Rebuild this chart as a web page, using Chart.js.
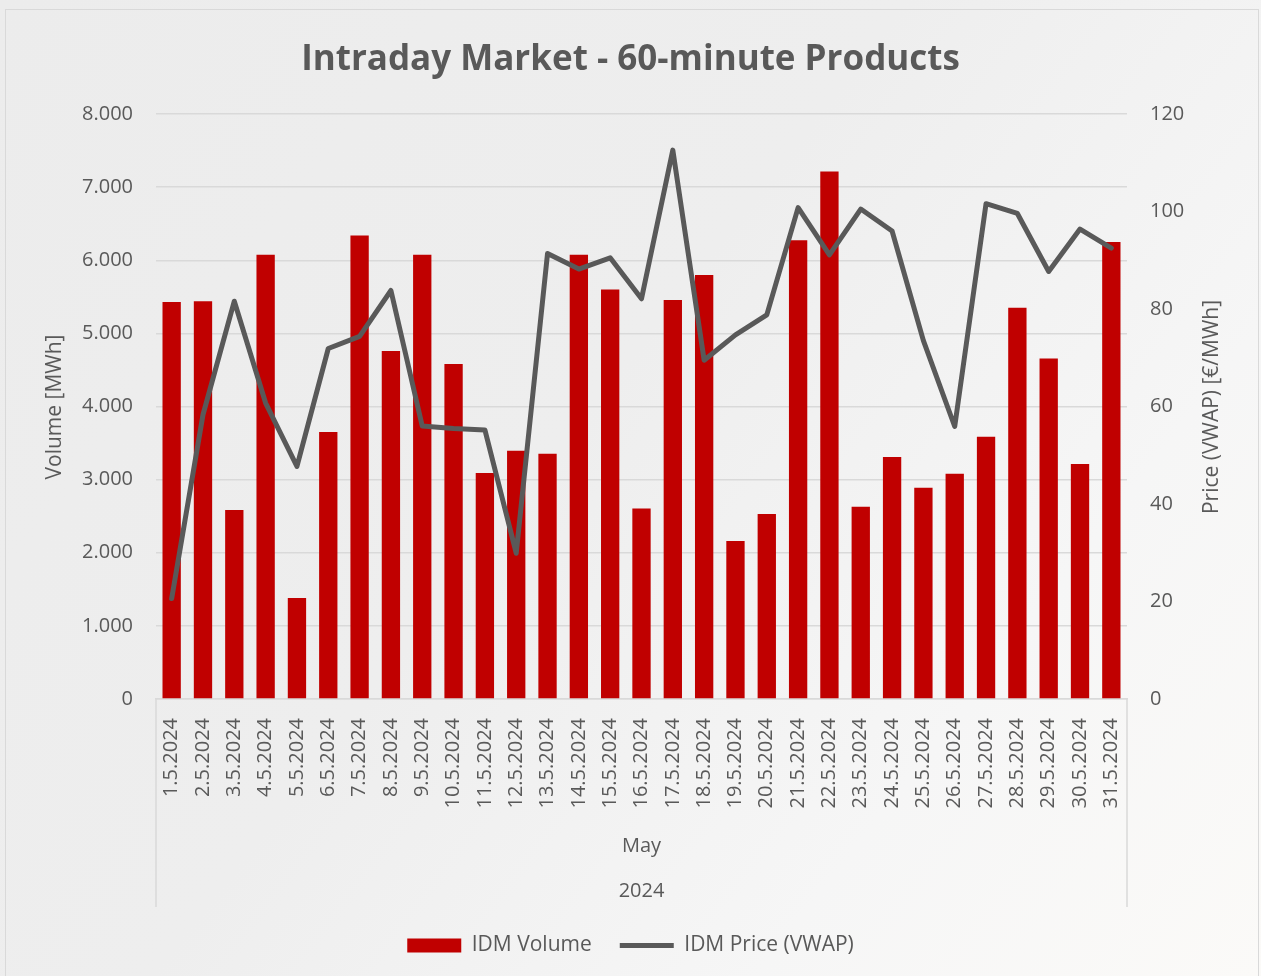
<!DOCTYPE html>
<html>
<head>
<meta charset="utf-8">
<script src="https://cdn.jsdelivr.net/npm/chart.js@4"></script>
<style>
  html, body { margin: 0; padding: 0; background: #f3f3f3; }
  canvas { display: block; }
</style>
</head>
<body>
<canvas id="idmChart" width="1261" height="976"></canvas>
<script>
// data
var days = [
  "1.5.2024", "2.5.2024", "3.5.2024", "4.5.2024", "5.5.2024", "6.5.2024",
  "7.5.2024", "8.5.2024", "9.5.2024", "10.5.2024", "11.5.2024", "12.5.2024",
  "13.5.2024", "14.5.2024", "15.5.2024", "16.5.2024", "17.5.2024", "18.5.2024",
  "19.5.2024", "20.5.2024", "21.5.2024", "22.5.2024", "23.5.2024", "24.5.2024",
  "25.5.2024", "26.5.2024", "27.5.2024", "28.5.2024", "29.5.2024", "30.5.2024",
  "31.5.2024",
];
var idmVolume = [
  5430, 5440, 2585, 6075, 1380, 3650, 6340, 4760, 6075, 4580, 3090, 3395,
  3355, 6075, 5600, 2605, 5455, 5800, 2160, 2530, 6275, 7215, 2630, 3310,
  2890, 3080, 3585, 5350, 4655, 3215, 6250,
];
var idmPrice = [
  20.6, 58.3, 81.6, 60.7, 47.7, 71.9, 74.4, 83.8, 56.0, 55.5, 55.2, 29.9,
  91.4, 88.2, 90.5, 82.1, 112.6, 69.5, 74.7, 78.8, 100.8, 91.1, 100.5, 96.0,
  73.5, 55.9, 101.6, 99.6, 87.7, 96.4, 92.5,
];
var monthLabel = "May";
var yearLabel = "2024";
var chartTitle = "Intraday Market - 60-minute Products";
var leftTitle = "Volume [MWh]";
var rightTitle = "Price (VWAP) [€/MWh]";

var grey = "#595959";
var font = "'Open Sans', 'DejaVu Sans', sans-serif";

// background, outer frame, axis titles and the month/year level under the dates
var decor = {
  id: "decor",
  beforeDraw: function (chart) {
    var c = chart.ctx;
    c.save();
    var g = c.createLinearGradient(0, 0, 1261, 976);
    g.addColorStop(0, "#ececec");
    g.addColorStop(0.45, "#eeeeee");
    g.addColorStop(0.75, "#f6f6f6");
    g.addColorStop(1, "#fbfaf8");
    c.fillStyle = g;
    c.fillRect(0, 0, chart.width, chart.height);
    c.strokeStyle = "#d9d9d9";
    c.lineWidth = 1;
    c.strokeRect(5.5, 9.5, 1253, 980);
    c.restore();
  },
  afterDraw: function (chart) {
    var c = chart.ctx;
    var x = chart.scales.x;
    var area = chart.chartArea;
    c.save();
    c.strokeStyle = "#d9d9d9";
    c.lineWidth = 1.5;
    c.beginPath();
    c.moveTo(area.left, area.bottom);
    c.lineTo(area.left, x.bottom);
    c.moveTo(area.right, area.bottom);
    c.lineTo(area.right, x.bottom);
    c.stroke();

    c.fillStyle = grey;
    c.textAlign = "center";
    c.textBaseline = "middle";
    c.font = "20px " + font;
    var mid = (area.left + area.right) / 2;
    c.fillText(monthLabel, mid, x.top + 147);
    c.fillText(yearLabel, mid, x.top + 192);

    c.font = "21px " + font;
    c.translate(55, 407);
    c.rotate(-Math.PI / 2);
    c.fillText(leftTitle, 0, 0);
    c.setTransform(1, 0, 0, 1, 0, 0);
    c.translate(1212, 407);
    c.rotate(-Math.PI / 2);
    c.fillText(rightTitle, 0, 0);
    c.restore();
  },
};

var ctx = document.getElementById("idmChart").getContext("2d");
var idmChart = new Chart(ctx, {
  type: "bar",
  data: {
    labels: days,
    datasets: [
      {
        label: "IDM Volume",
        data: idmVolume,
        backgroundColor: "#c00000",
        borderWidth: 0,
        yAxisID: "y",
        order: 1,
        pointStyle: "rect",
        barPercentage: 0.585,
        categoryPercentage: 1,
      },
      {
        type: "line",
        label: "IDM Price (VWAP)",
        data: idmPrice,
        borderColor: grey,
        backgroundColor: grey,
        borderWidth: 5,
        borderJoinStyle: "round",
        borderCapStyle: "round",
        pointRadius: 0,
        pointStyle: "line",
        yAxisID: "y1",
        order: 0,
        tension: 0,
      },
    ],
  },
  options: {
    responsive: false,
    animation: false,
    layout: { padding: { top: 0, bottom: 10, left: 0, right: 0 } },
    plugins: {
      title: {
        display: true,
        text: chartTitle,
        color: grey,
        font: { family: font, size: 35, weight: "bold" },
        padding: { top: 39, bottom: 33 },
      },
      legend: {
        position: "bottom",
        labels: {
          color: grey,
          font: { family: font, size: 21 },
          usePointStyle: true,
          pointStyleWidth: 54,
          boxHeight: 14,
          padding: 28,
          sort: function (a, b) {
            return a.datasetIndex - b.datasetIndex;
          },
        },
      },
      tooltip: { enabled: false },
    },
    scales: {
      x: {
        grid: { display: false, drawTicks: false },
        border: { display: true, color: "#d9d9d9", width: 1.5 },
        ticks: {
          color: grey,
          font: { family: font, size: 20 },
          minRotation: 90,
          maxRotation: 90,
          autoSkip: false,
          padding: 19,
        },
        afterFit: function (scale) {
          scale.height = 208;
        },
      },
      y: {
        position: "left",
        min: 0,
        max: 8000,
        grid: { color: "#d9d9d9", lineWidth: 1.5, drawTicks: false },
        border: { display: false },
        ticks: {
          stepSize: 1000,
          color: grey,
          font: { family: font, size: 20 },
          padding: 23,
          callback: function (v) {
            return v.toLocaleString("de-DE");
          },
        },
        afterFit: function (scale) {
          scale.width = 156;
        },
      },
      y1: {
        position: "right",
        min: 0,
        max: 120,
        grid: { display: false, drawTicks: false },
        border: { display: false },
        ticks: {
          stepSize: 20,
          color: grey,
          font: { family: font, size: 20 },
          padding: 23,
        },
        afterFit: function (scale) {
          scale.width = 134;
        },
      },
    },
  },
  plugins: [decor],
});
</script>
</body>
</html>
